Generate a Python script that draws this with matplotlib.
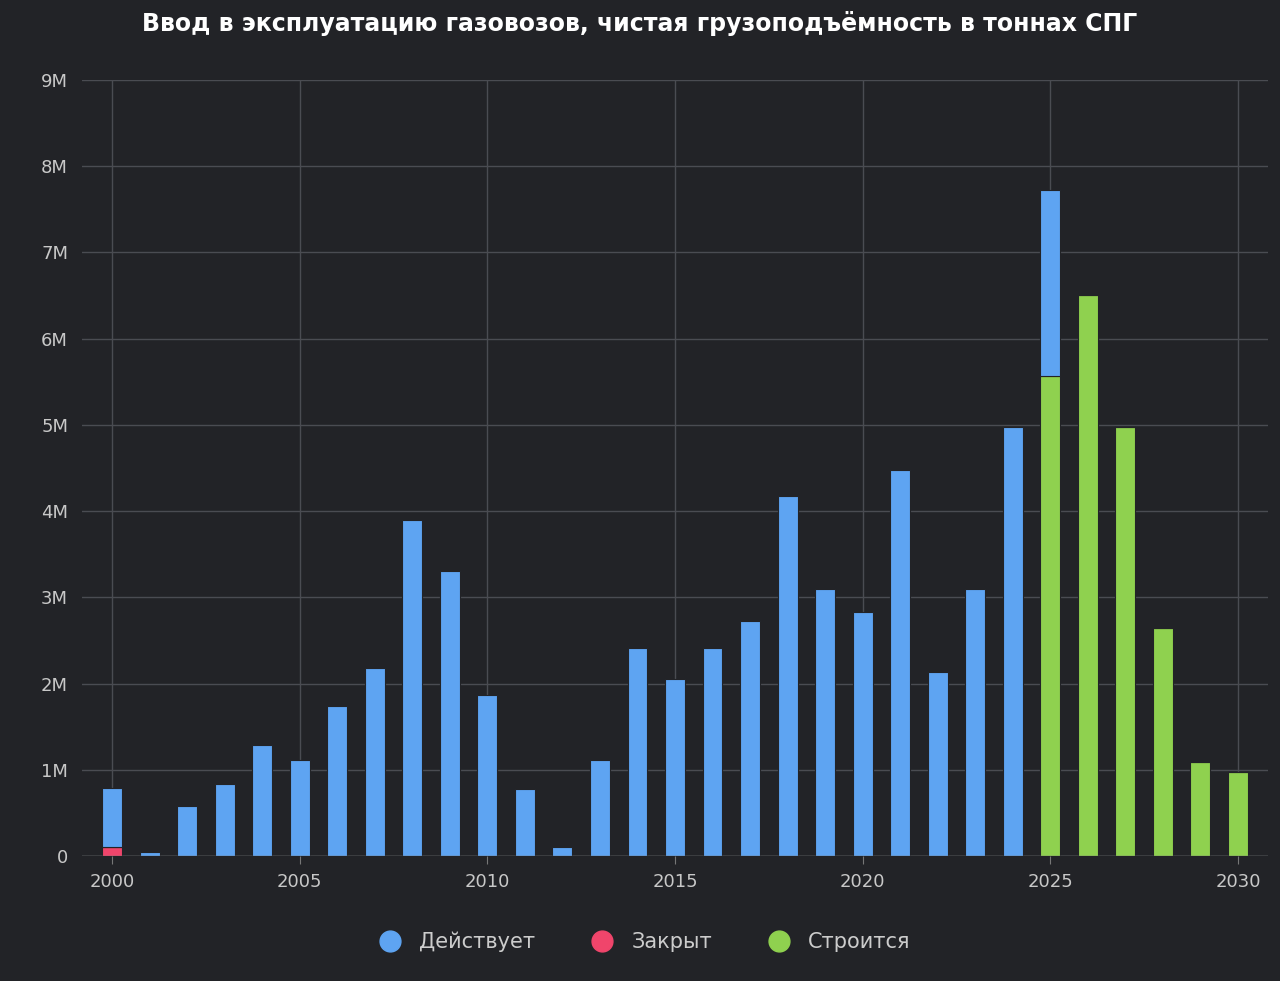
import numpy as np
import matplotlib.pyplot as plt
from matplotlib.lines import Line2D

years = np.arange(2000, 2031)
active = [0.68, 0.05, 0.58, 0.84, 1.29, 1.11, 1.74, 2.18, 3.90, 3.31,
          1.87, 0.78, 0.10, 1.11, 2.41, 2.05, 2.41, 2.73, 4.18, 3.10,
          2.83, 4.48, 2.13, 3.10, 4.97, 2.16, 0, 0, 0, 0, 0]
closed = [0.11] + [0] * 30
building = [0] * 25 + [5.57, 6.51, 4.97, 2.65, 1.09, 0.97]

BG = '#222327'
C_ACT, C_CLOSED, C_BUILD = '#5ea4f2', '#f0456b', '#8fd14f'

fig = plt.figure(figsize=(12.8, 9.81), dpi=100, facecolor=BG)
ax = fig.add_axes([82 / 1280, 1 - 856 / 981, (1268 - 82) / 1280, (856 - 80) / 981])
ax.set_facecolor(BG)

closed = np.array(closed)
building = np.array(building)
active = np.array(active)
w = 0.53
kw = dict(width=w, edgecolor=BG, linewidth=0.8)
ax.bar(years, closed, color=C_CLOSED, **kw)
ax.bar(years, building, bottom=closed, color=C_BUILD, **kw)
ax.bar(years, active, bottom=closed + building, color=C_ACT, **kw)

ax.set_xlim(1999.2, 2030.8)
ax.set_ylim(0, 9)
ax.set_yticks(range(10))
ax.set_yticklabels(['0'] + [f'{i}M' for i in range(1, 10)])
ax.set_xticks(range(2000, 2031, 5))
ax.grid(True, color='#4a4c52', linewidth=1)
ax.set_axisbelow(True)
for s in ax.spines.values():
    s.set_visible(False)
ax.tick_params(colors='#c8c8c8', labelsize=13, length=0, pad=10)
ax.tick_params(axis='x', length=6, color='#777777', pad=6)
ax.axhline(0, color='#888888', linewidth=1)

fig.text(0.5, 1 - 24 / 981, 'Ввод в эксплуатацию газовозов, чистая грузоподъёмность в тоннах СПГ',
         ha='center', va='center', color='white', fontsize=17, fontweight='bold')

handles = [Line2D([], [], marker='o', ls='', color=c, markersize=15)
           for c in (C_ACT, C_CLOSED, C_BUILD)]
fig.legend(handles, ['Действует', 'Закрыт', 'Строится'], loc='center',
           bbox_to_anchor=(0.5, 1 - 942 / 981), ncol=3, frameon=False,
           labelcolor='#cccccc', fontsize=15, handletextpad=0.4, columnspacing=2.2)

fig.savefig('out.png', dpi=100, facecolor=BG)
